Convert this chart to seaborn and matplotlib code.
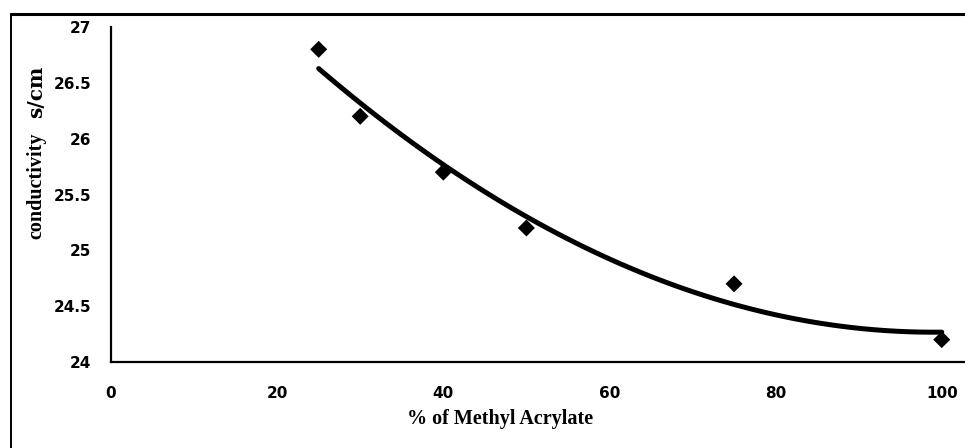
import matplotlib
matplotlib.use("Agg")
import matplotlib.pyplot as plt
from matplotlib.lines import Line2D
import seaborn as sns
import pandas as pd

# Conductivity measurements against methyl acrylate content
methyl_acrylate_pct = [25, 30, 40, 50, 75, 100]
conductivity = [26.8, 26.2, 25.7, 25.2, 24.7, 24.2]
x_ticks = [0, 20, 40, 60, 80, 100]
x_tick_labels = ["0", "20", "40", "60", "80", "100"]
y_ticks = [24, 24.5, 25, 25.5, 26, 26.5, 27]
y_tick_labels = ["24", "24.5", "25", "25.5", "26", "26.5", "27"]

df = pd.DataFrame({"pct": methyl_acrylate_pct, "cond": conductivity})

sns.set_style("white")
plt.rcParams["font.family"] = ["DejaVu Sans"]
plt.rcParams.update({"text.color": "black", "axes.labelcolor": "black",
                     "xtick.color": "black", "ytick.color": "black"})

W, H = 965, 448
fig = plt.figure(figsize=(W / 100, H / 100), dpi=100)
ax = fig.add_axes([111 / W, (H - 362) / H, (W - 111) / W, (362 - 27) / H])

# Data points with a second-order polynomial trend line
sns.regplot(
    data=df, x="pct", y="cond", order=2, ci=None, ax=ax,
    marker="D", color="black",
    scatter_kws={"s": 75, "edgecolors": "none", "alpha": 1, "zorder": 3},
    line_kws={"lw": 3.6, "solid_capstyle": "round"},
)

ax.set_xlim(0, 102.8)
ax.set_ylim(24, 27)
ax.set_xticks(x_ticks)
ax.set_xticklabels(x_tick_labels)
ax.set_yticks(y_ticks)
ax.set_yticklabels(y_tick_labels)

for s in ["top", "right"]:
    ax.spines[s].set_visible(False)
for s in ["left", "bottom"]:
    ax.spines[s].set_color("black")
    ax.spines[s].set_linewidth(1.6)

ax.tick_params(axis="both", which="major", direction="out", length=4, width=1.2,
               color="black", labelcolor="black", labelsize=11)
ax.tick_params(axis="x", pad=13)
ax.tick_params(axis="y", pad=10)
for lab in ax.get_xticklabels() + ax.get_yticklabels():
    lab.set_fontweight("bold")

ax.set_xlabel("% of Methyl Acrylate", family="Liberation Serif", fontweight="bold",
              fontsize=14.5, color="black")
ax.xaxis.set_label_coords(0.455, -0.14)
ax.set_ylabel("")

# Y-axis title: quantity and unit
ax.text((36 - 111) / 854, (362 - 186) / 335, "conductivity", transform=ax.transAxes,
        rotation=90, ha="center", va="center", family="Liberation Serif",
        fontweight="bold", fontsize=14.5, color="black")
ax.text((36 - 111) / 854, (362 - 92) / 335, "s/cm", transform=ax.transAxes,
        rotation=90, ha="center", va="center", family="DejaVu Serif",
        fontweight="bold", fontsize=14.5, color="black")

# Outer frame: left and top edges
fig.add_artist(Line2D([11 / W, 11 / W], [0, (H - 14) / H], color="black", lw=1.4))
fig.add_artist(Line2D([11 / W, 1], [(H - 14) / H, (H - 14) / H], color="black", lw=2.2))

fig.savefig("out.png", dpi=100, facecolor="white")
